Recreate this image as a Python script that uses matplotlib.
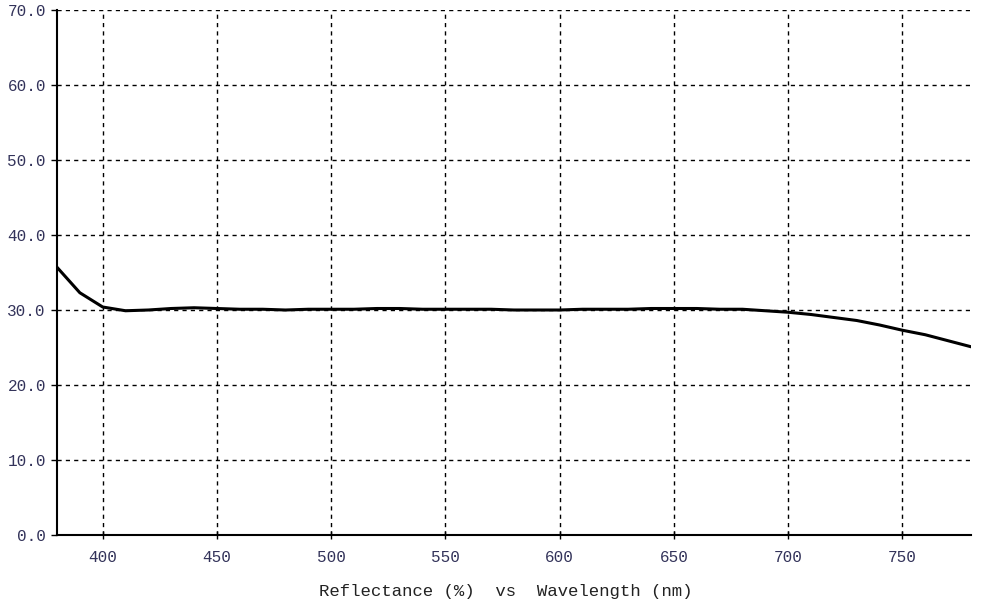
import numpy as np
from matplotlib import pyplot as plt

# Reflectance curve
wavelength = [380, 390, 400, 410, 420, 430, 440, 450, 460, 470, 480, 490, 500,
              510, 520, 530, 540, 550, 560, 570, 580, 590, 600, 610, 620, 630,
              640, 650, 660, 670, 680, 690, 700, 710, 720, 730, 740, 750, 760,
              770, 780]
reflectance = [35.7, 32.3, 30.4, 29.9, 30.0, 30.2, 30.3, 30.2, 30.1, 30.1, 30.0,
               30.1, 30.1, 30.1, 30.2, 30.2, 30.1, 30.1, 30.1, 30.1, 30.0, 30.0,
               30.0, 30.1, 30.1, 30.1, 30.2, 30.2, 30.2, 30.1, 30.1, 29.9, 29.7,
               29.4, 29.0, 28.6, 28.0, 27.3, 26.7, 25.9, 25.1]

x_ticks = [400, 450, 500, 550, 600, 650, 700, 750]
y_ticks = [0, 10, 20, 30, 40, 50, 60, 70]

plt.rcParams['font.family'] = ['Liberation Mono', 'DejaVu Sans Mono']

fig = plt.figure(figsize=(10.02, 6.04), dpi=100)
ax = fig.add_axes([57/1002, 1-535/604, (971-57)/1002, (535-10)/604])

ax.plot(wavelength, reflectance, color="black", linewidth=2.2)

ax.set_xlim(380, 780)
ax.set_ylim(0, 70)
ax.set_xticks(x_ticks)
ax.set_yticks(y_ticks)
ax.set_yticklabels(["%.1f" % v for v in y_ticks])

ax.grid(True, color="black", linestyle=(0, (3, 3)), linewidth=1)
ax.spines["top"].set_visible(False)
ax.spines["right"].set_visible(False)
ax.spines["left"].set_linewidth(1.5)
ax.spines["bottom"].set_linewidth(1.5)
ax.tick_params(axis="x", direction="inout", length=6, width=1, pad=8,
               labelsize=11.5, labelcolor="#33335a")
ax.tick_params(axis="y", direction="out", length=4, width=1, pad=4,
               labelsize=11.5, labelcolor="#33335a")

ax.set_xlabel("Reflectance (%)  vs  Wavelength (nm)", fontsize=12.5,
              color="#222222")
ax.xaxis.set_label_coords(0.491, -0.093)

plt.savefig("out.png", dpi=100)
